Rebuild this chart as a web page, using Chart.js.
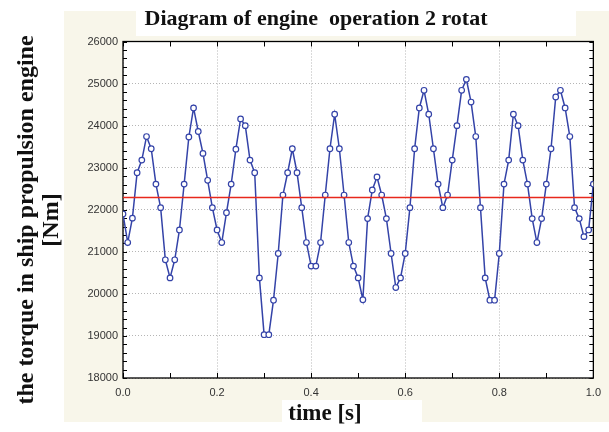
<!DOCTYPE html>
<html>
<head>
<meta charset="utf-8">
<title>Diagram of engine operation 2 rotat</title>
<script src="https://cdn.jsdelivr.net/npm/chart.js@4"></script>
<style>
  html, body { margin: 0; padding: 0; background: #ffffff; }
  canvas { display: block; }
</style>
</head>
<body>
<canvas id="torqueChart" width="609" height="432"></canvas>
<script>
// time axis [s]
const times = [
  0.00, 0.01, 0.02, 0.03, 0.04, 0.05, 0.06, 0.07, 0.08, 0.09,
  0.10, 0.11, 0.12, 0.13, 0.14, 0.15, 0.16, 0.17, 0.18, 0.19,
  0.20, 0.21, 0.22, 0.23, 0.24, 0.25, 0.26, 0.27, 0.28, 0.29,
  0.30, 0.31, 0.32, 0.33, 0.34, 0.35, 0.36, 0.37, 0.38, 0.39,
  0.40, 0.41, 0.42, 0.43, 0.44, 0.45, 0.46, 0.47, 0.48, 0.49,
  0.50, 0.51, 0.52, 0.53, 0.54, 0.55, 0.56, 0.57, 0.58, 0.59,
  0.60, 0.61, 0.62, 0.63, 0.64, 0.65, 0.66, 0.67, 0.68, 0.69,
  0.70, 0.71, 0.72, 0.73, 0.74, 0.75, 0.76, 0.77, 0.78, 0.79,
  0.80, 0.81, 0.82, 0.83, 0.84, 0.85, 0.86, 0.87, 0.88, 0.89,
  0.90, 0.91, 0.92, 0.93, 0.94, 0.95, 0.96, 0.97, 0.98, 0.99,
  1.00
];

// torque [Nm]
const torque = [
  21900, 21220, 21800, 22880, 23180, 23740, 23450, 22610, 22050, 20810,
  20380, 20810, 21520, 22610, 23730, 24420, 23860, 23340, 22700, 22050,
  21520, 21220, 21930, 22610, 23440, 24160, 24000, 23180, 22880, 20380,
  19030, 19030, 19850, 20960, 22350, 22880, 23450, 22880, 22050, 21220,
  20660, 20660, 21220, 22350, 23450, 24270, 23450, 22350, 21220, 20660,
  20380, 19860, 21790, 22470, 22780, 22350, 21790, 20960, 20150, 20380,
  20960, 22050, 23450, 24420, 24840, 24270, 23450, 22610, 22050, 22350,
  23180, 24000, 24840, 25100, 24560, 23740, 22050, 20380, 19850, 19850,
  20960, 22610, 23180, 24270, 24000, 23180, 22610, 21790, 21220, 21790,
  22610, 23450, 24680, 24840, 24420, 23740, 22050, 21790, 21360, 21520,
  22610
];

// mean torque (red line)
const meanTorque = 22290;
const meanSpan = [0, 1];

const titleText = 'Diagram of engine  operation 2 rotat';
const xTitle = 'time [s]';
const yTitle = ['the torque in ship propulsion engine', '[Nm]'];

const serif = '"Liberation Serif", "Times New Roman", serif';
const sans = '"Liberation Sans", Arial, sans-serif';

// fond, cadre, petites graduations et textes
const chartDecor = {
  id: 'chartDecor',
  beforeDraw(chart) {
    const { ctx, chartArea: a } = chart;
    ctx.save();
    ctx.fillStyle = '#ffffff';
    ctx.fillRect(0, 0, chart.width, chart.height);
    ctx.fillStyle = '#f8f6ea';
    ctx.fillRect(64, 11, chart.width - 64, 411);
    ctx.fillStyle = '#ffffff';
    ctx.fillRect(136, 0, 440, 36);
    ctx.fillRect(282, 400, 140, 32);
    ctx.fillRect(a.left, a.top, a.right - a.left, a.bottom - a.top);
    ctx.restore();
  },
  beforeDatasetsDraw(chart) {
    const { ctx, chartArea: a, scales } = chart;
    ctx.save();
    ctx.strokeStyle = '#000000';
    ctx.lineWidth = 1;
    ctx.beginPath();
    for (let v = 18000; v <= 26000; v += 200) {
      const y = Math.round(scales.y.getPixelForValue(v)) + 0.5;
      ctx.moveTo(a.left, y); ctx.lineTo(a.left + 4, y);
      ctx.moveTo(a.right, y); ctx.lineTo(a.right - 4, y);
    }
    for (let i = 0; i <= 10; i++) {
      const x = Math.round(scales.x.getPixelForValue(i / 10)) + 0.5;
      ctx.moveTo(x, a.top); ctx.lineTo(x, a.top + 5);
      ctx.moveTo(x, a.bottom); ctx.lineTo(x, a.bottom - 5);
    }
    ctx.stroke();
    ctx.lineWidth = 1.3;
    ctx.strokeRect(a.left, a.top, a.right - a.left, a.bottom - a.top);
    ctx.restore();
  },
  afterDraw(chart) {
    const ctx = chart.ctx;
    ctx.save();
    ctx.fillStyle = '#111111';
    ctx.textAlign = 'center';
    ctx.textBaseline = 'middle';
    ctx.font = 'bold 22px ' + serif;
    ctx.fillText(titleText, 316, 19);
    ctx.font = 'bold 23px ' + serif;
    ctx.fillText(xTitle, 325, 414);
    ctx.translate(0, 220);
    ctx.rotate(-Math.PI / 2);
    ctx.font = 'bold 24px ' + serif;
    ctx.fillText(yTitle[0], 0, 27);
    ctx.fillText(yTitle[1], 0, 52);
    ctx.restore();
  }
};

const ctx = document.getElementById('torqueChart').getContext('2d');
new Chart(ctx, {
  type: 'line',
  data: {
    datasets: [{
      label: 'mean',
      data: meanSpan.map(t => ({ x: t, y: meanTorque })),
      borderColor: '#e8281c',
      borderWidth: 1.4,
      pointRadius: 0,
      fill: false,
    }, {
      label: 'torque',
      data: times.map((t, i) => ({ x: t, y: torque[i] })),
      borderColor: '#3443a8',
      borderWidth: 1.5,
      pointRadius: 2.8,
      pointBorderWidth: 1.2,
      pointBackgroundColor: '#ffffff',
      pointBorderColor: '#3443a8',
      tension: 0,
      fill: false,
    }]
  },
  options: {
    responsive: false,
    animation: false,
    devicePixelRatio: 1,
    layout: { padding: { top: 41.5, right: 8, left: 0, bottom: 0 } },
    plugins: {
      legend: { display: false },
      title: { display: false },
      tooltip: { enabled: false },
    },
    scales: {
      x: {
        type: 'linear',
        min: 0,
        max: 1,
        ticks: {
          stepSize: 0.2,
          padding: 8,
          maxRotation: 0,
          color: '#333333',
          font: { family: sans, size: 11 },
          callback: v => v.toFixed(1),
        },
        grid: { color: '#b5b5b5', drawTicks: false },
        border: { display: false, dash: [1, 2] },
        afterFit(scale) { scale.height = 54; },
      },
      y: {
        min: 18000,
        max: 26000,
        ticks: {
          stepSize: 1000,
          padding: 5,
          color: '#333333',
          font: { family: sans, size: 11 },
          callback: v => String(v),
        },
        grid: { color: '#b5b5b5', drawTicks: false },
        border: { display: false, dash: [1, 2] },
        afterFit(scale) { scale.width = 123; },
      }
    }
  },
  plugins: [chartDecor],
});
</script>
</body>
</html>
